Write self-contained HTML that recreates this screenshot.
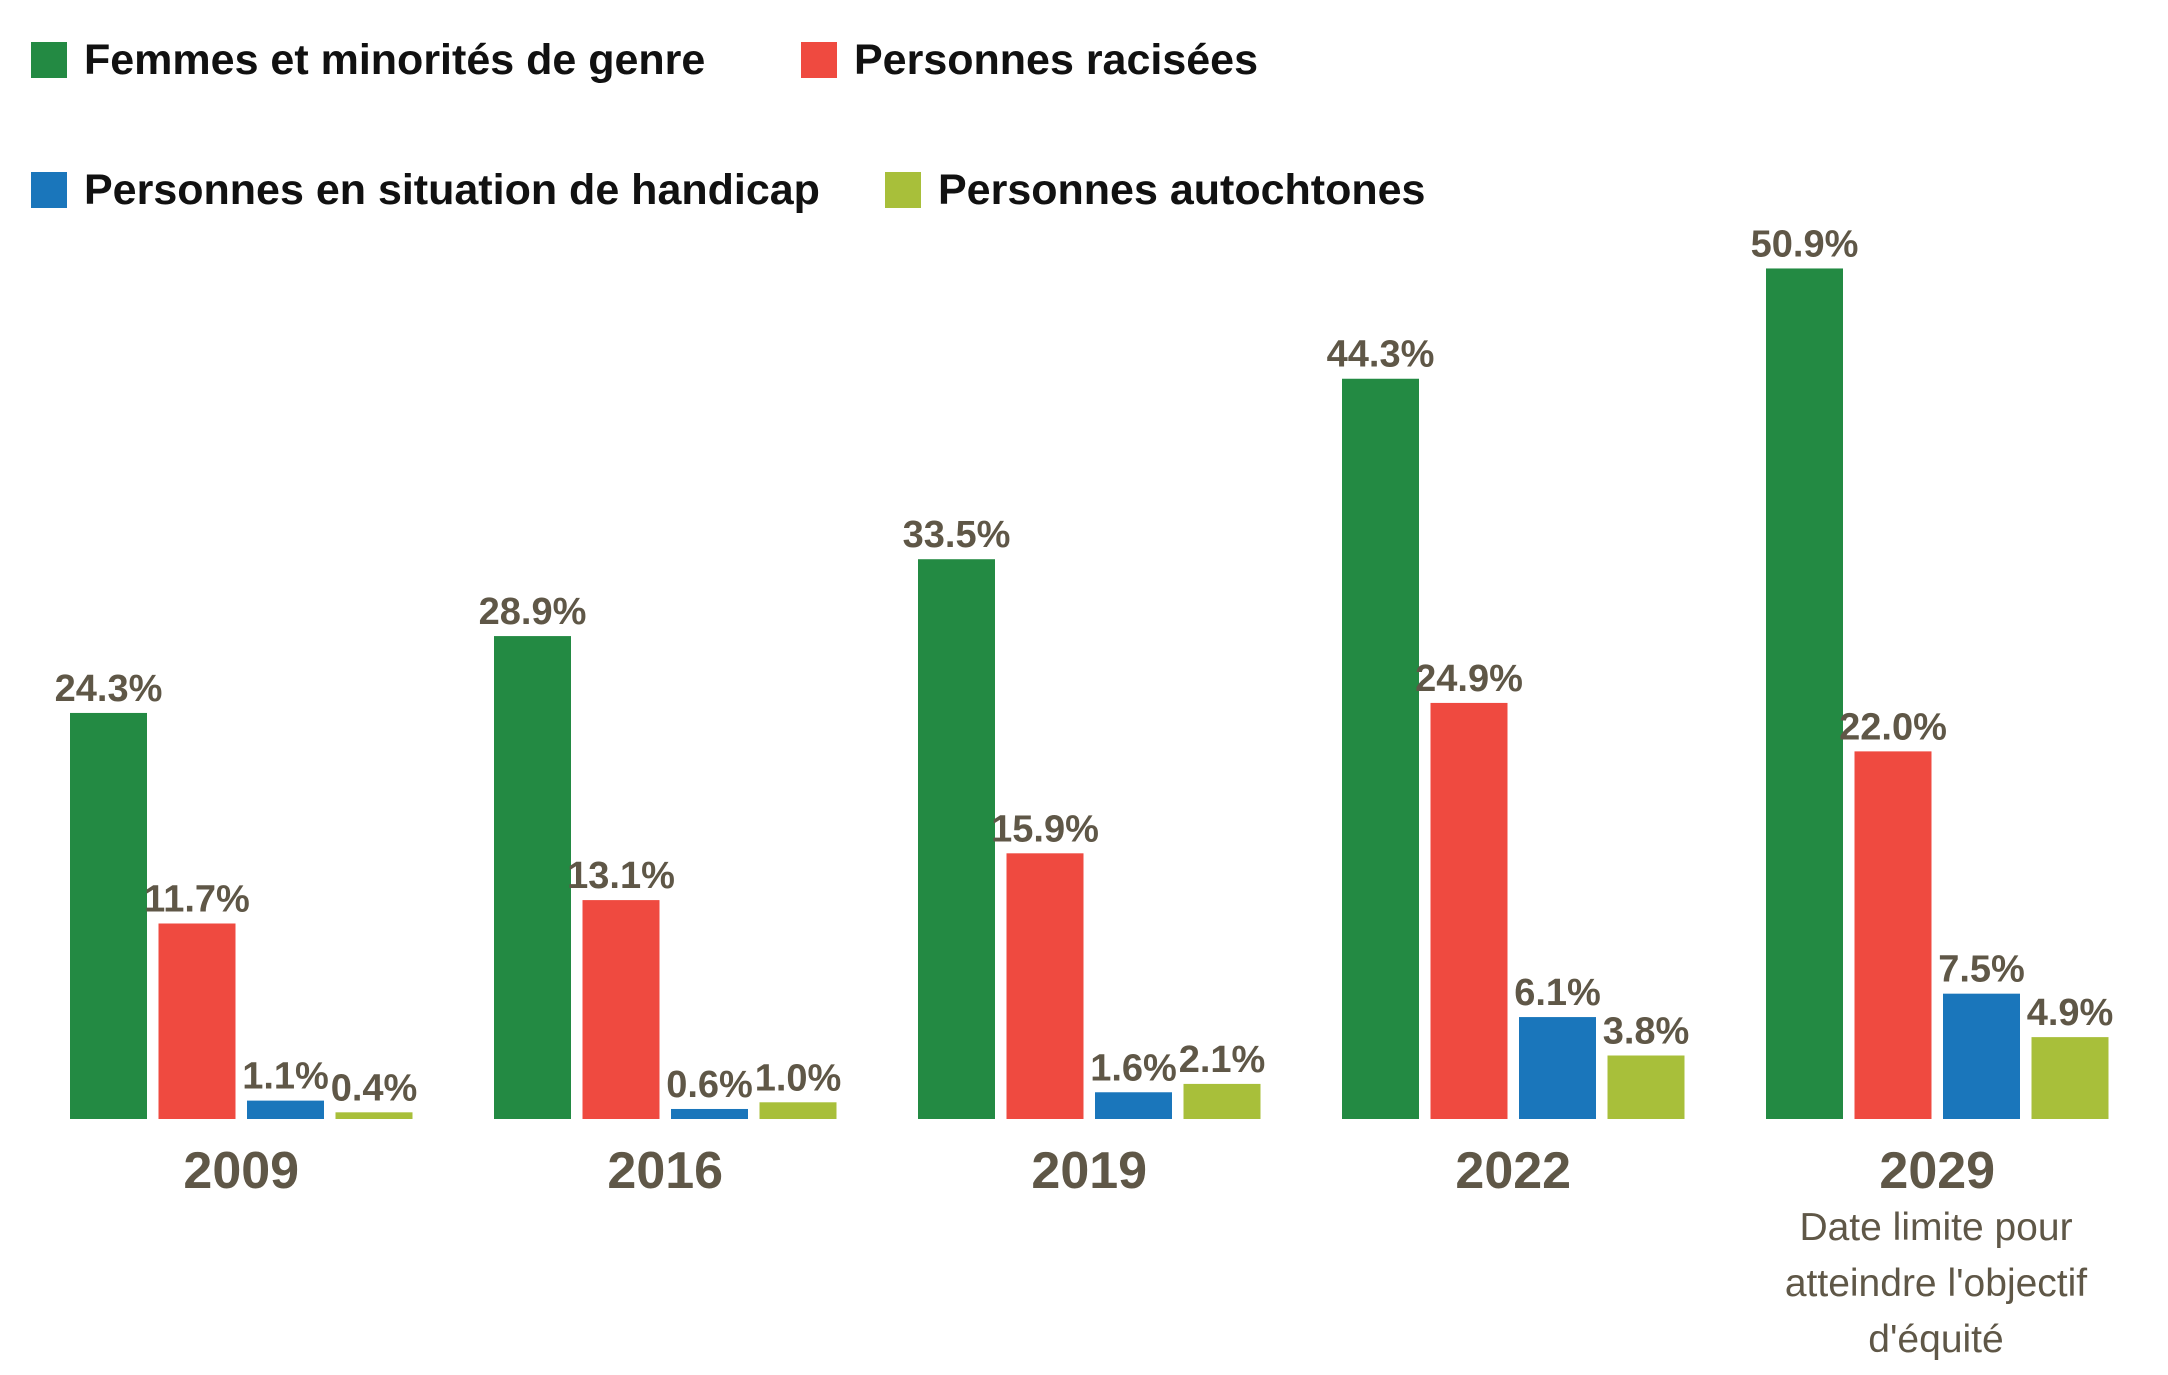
<!DOCTYPE html>
<html><head><meta charset="utf-8"><style>
html,body{margin:0;padding:0;background:#fff;}
svg{display:block;font-family:"Liberation Sans Narrow","Liberation Sans",sans-serif;}
</style></head><body>
<svg id="chart" width="2168" height="1375" viewBox="0 0 2168 1375">
<g>
<g><rect x="31" y="42" width="36" height="36" fill="#238a43"/><text x="84" y="74" font-size="43" font-weight="bold" fill="#111">Femmes et minorités de genre</text></g>
<g><rect x="801" y="42" width="36" height="36" fill="#ef4a40"/><text x="854" y="74" font-size="43" font-weight="bold" fill="#111">Personnes racisées</text></g>
<g><rect x="31" y="172" width="36" height="36" fill="#1a76bb"/><text x="84" y="204" font-size="43" font-weight="bold" fill="#111">Personnes en situation de handicap</text></g>
<g><rect x="885" y="172" width="36" height="36" fill="#a8bf3a"/><text x="938" y="204" font-size="43" font-weight="bold" fill="#111">Personnes autochtones</text></g>
</g>
<g id="bars"></g>
<g font-size="39" fill="#5f5747" text-anchor="middle">
<text x="1936" y="1240">Date limite pour</text>
<text x="1936" y="1296">atteindre l'objectif</text>
<text x="1936" y="1352">d'équité</text>
</g>
</svg>
<script>
const years = ["2009","2016","2019","2022","2029"];
const femmes = [24.3, 28.9, 33.5, 44.3, 50.9];
const racisees = [11.7, 13.1, 15.9, 24.9, 22.0];
const handicap = [1.1, 0.6, 1.6, 6.1, 7.5];
const autochtones = [0.4, 1.0, 2.1, 3.8, 4.9];

const series = [femmes, racisees, handicap, autochtones];
const names = ["femmes","racisees","handicap","autochtones"];
const colors = ["#238a43","#ef4a40","#1a76bb","#a8bf3a"];
const baseY = 1119, pxPer = 16.71, groupX0 = 70, groupStep = 424, barStep = 88.5, barW = 77;
const yScale = v => baseY - v * pxPer;
const xScale = (g, s) => groupX0 + g * groupStep + s * barStep;
const ns = "http://www.w3.org/2000/svg";
const root = document.getElementById("bars");
years.forEach((yr, g) => {
  series.forEach((arr, s) => {
    const v = arr[g];
    const x = xScale(g, s), y = yScale(v);
    const r = document.createElementNS(ns, "rect");
    r.setAttribute("x", x); r.setAttribute("y", y);
    r.setAttribute("width", barW); r.setAttribute("height", baseY - y);
    r.setAttribute("fill", colors[s]);
    
    
    root.appendChild(r);
    const t = document.createElementNS(ns, "text");
    t.setAttribute("x", x + barW / 2); t.setAttribute("y", y - 12);
    t.setAttribute("text-anchor", "middle"); t.setAttribute("font-size", "38");
    t.setAttribute("font-weight", "bold"); t.setAttribute("fill", "#5f5747");
    t.textContent = v.toFixed(1) + "%";
    
    
    root.appendChild(t);
  });
  const yt = document.createElementNS(ns, "text");
  yt.setAttribute("x", xScale(g, 0) + (3 * barStep + barW) / 2);
  yt.setAttribute("y", 1188);
  yt.setAttribute("text-anchor", "middle"); yt.setAttribute("font-size", "52");
  yt.setAttribute("font-weight", "bold"); yt.setAttribute("fill", "#5f5747");
  yt.textContent = yr;
  
  
  root.appendChild(yt);
});
</script>
</body></html>
